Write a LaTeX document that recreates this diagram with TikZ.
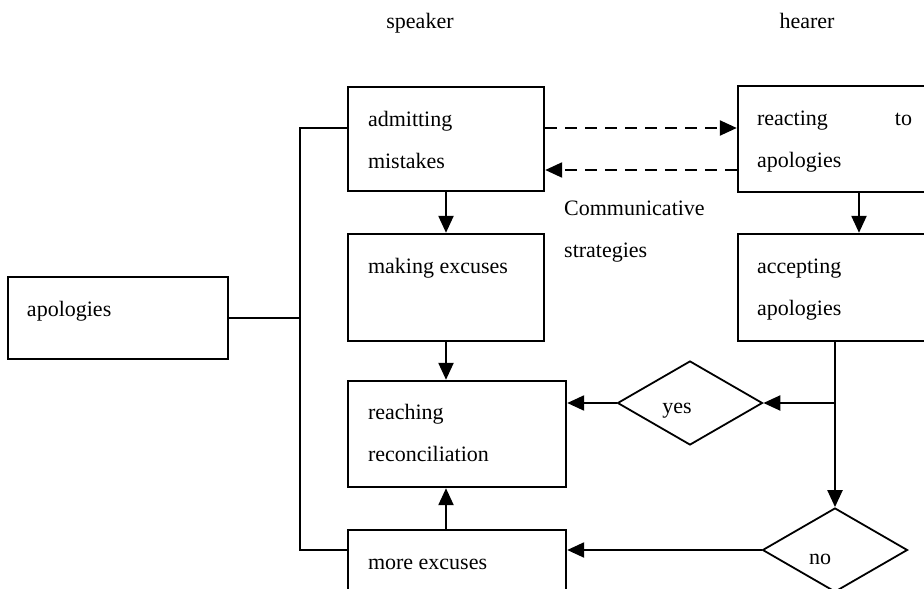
\documentclass[tikz,border=0pt]{standalone}
\usepackage{fontspec}
\setmainfont{Liberation Serif}
\usetikzlibrary{arrows.meta,shapes.geometric,calc}
\begin{document}
\begin{tikzpicture}[x=1pt,y=-1pt,
  box/.style={draw, line width=2.4pt, rectangle, inner sep=0pt},
  dia/.style={draw, line width=1.8pt, diamond, inner sep=0pt,
              minimum width=145pt, minimum height=84pt},
  txt/.style={font=\fontsize{22}{42}\selectfont, inner sep=0pt},
  lbl/.style={txt, anchor=base west, align=left},
  arr/.style={line width=2.3pt, -{Triangle[length=17pt,width=15pt]}},
  dasharr/.style={arr, dash pattern=on 12pt off 8pt},
  brace/.style={line width=1.6pt}]
\clip (0,0) rectangle (924,589);

% column headings
\node[txt, anchor=base] (hspk) at (420,28) {speaker};
\node[txt, anchor=base] (hhear) at (807,28) {hearer};

% boxes
\node[box, minimum width=196pt, minimum height=104pt] (admit)  at (446,139)   {};
\node[box, minimum width=196pt, minimum height=107pt] (making) at (446,287.5) {};
\node[box, minimum width=218pt, minimum height=106pt] (reach)  at (457,434)   {};
\node[box, minimum width=218pt, minimum height=106pt] (more)   at (457,583)   {};
\node[box, minimum width=242pt, minimum height=106pt] (react)  at (859,139)   {};
\node[box, minimum width=242pt, minimum height=107pt] (accept) at (859,287.5) {};
\node[box, minimum width=220pt, minimum height=82pt]  (apol)   at (118,318)   {};

% decisions
\node[dia] (yes) at (690,403) {};
\node[dia] (no)  at (835,550) {};

% box texts (base west of a two-line text is the baseline of its last line)
\node[lbl] (tadmit)  at ($(admit.north west)+(21,83)$)  {admitting\\mistakes};
\node[lbl] (tmaking) at ($(making.north west)+(21,41)$) {making excuses};
\node[lbl] (treach)  at ($(reach.north west)+(21,82)$)  {reaching\\reconciliation};
\node[lbl] (tmore)   at ($(more.north west)+(21,41)$)   {more excuses};
\node[lbl, text width=155pt] (treact) at ($(react.north west)+(20,41)$) {reacting\hfill to\\apologies};
\node[lbl] (taccept) at ($(accept.north west)+(20,83)$) {accepting\\apologies};
\node[lbl] (tapol)   at ($(apol.north west)+(20,41)$)   {apologies};
\node[txt] (tyes) at ($(yes)+(-13,8)$) {yes};
\node[txt] (tno)  at ($(no)+(-15,9)$)  {no};
\node[lbl] (tcomm) at (564,257) {Communicative\\strategies};

% communicative exchange
\draw[dasharr] ($(admit.east)+(0,-11)$) -- ($(react.west)+(0,-11)$);
\draw[dasharr] ($(react.west)+(0,31)$) -- ($(admit.east)+(0,31)$);

% speaker column
\draw[arr] (admit.south) -- (making.north);
\draw[arr] (making.south) -- (making.south |- reach.north);
\draw[arr] (making.south |- more.north) -- (making.south |- reach.south);

% hearer column
\draw[arr] (react.south) -- (accept.north);
\coordinate (split) at (no.north |- yes.east);
\draw[arr] (no.north |- accept.south) -- (no.north);
\draw[arr] (split) -- (yes.east);
\draw[arr] (yes.west) -- (yes.west -| reach.east);
\draw[arr] (no.west) -- (no.west -| more.east);

% bracket from apologies
\coordinate (btop) at (300,128);
\coordinate (bbot) at (300,550);
\draw[brace] (apol.east) -- (apol.east -| btop);
\draw[brace] (admit.west |- btop) -- (btop) -- (bbot) -- (more.west |- bbot);
\end{tikzpicture}
\end{document}
